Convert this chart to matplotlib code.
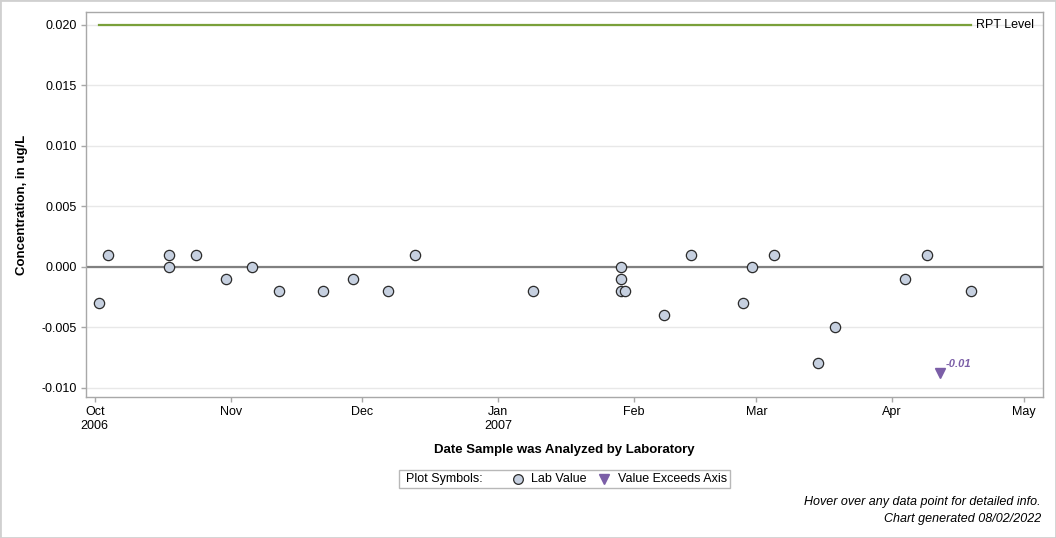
#!/usr/bin/env python3
"""Lab concentration time series with RPT level, SAS-style."""

import matplotlib
matplotlib.use("Agg")
import matplotlib.pyplot as plt
from matplotlib.lines import Line2D
from matplotlib.patches import Rectangle
import pandas as pd

plt.rcParams["font.family"] = ["Liberation Sans", "DejaVu Sans"]

# --- Data ------------------------------------------------------------------
lab_dates = [
    "2006-10-02", "2006-10-04", "2006-10-18", "2006-10-18", "2006-10-24",
    "2006-10-31", "2006-11-06", "2006-11-12", "2006-11-22", "2006-11-29",
    "2006-12-07", "2006-12-13", "2007-01-09", "2007-01-29", "2007-01-29",
    "2007-01-29", "2007-01-30", "2007-02-08", "2007-02-14", "2007-02-26",
    "2007-02-28", "2007-03-05", "2007-03-15", "2007-03-19", "2007-04-04",
    "2007-04-09", "2007-04-19",
]
lab_values = [
    -0.003, 0.001, 0.001, 0.000, 0.001,
    -0.001, 0.000, -0.002, -0.002, -0.001,
    -0.002, 0.001, -0.002, 0.000, -0.001,
    -0.002, -0.002, -0.004, 0.001, -0.003,
    0.000, 0.001, -0.008, -0.005, -0.001,
    0.001, -0.002,
]
exceed_dates = ["2007-04-12"]
exceed_labels = ["-0.01"]
exceed_plot_y = -0.0088   # where SAS parks the off-axis marker

rpt_level = 0.020
y_ticks = [-0.010, -0.005, 0.000, 0.005, 0.010, 0.015, 0.020]
month_ticks = ["2006-10-01", "2006-11-01", "2006-12-01", "2007-01-01",
               "2007-02-01", "2007-03-01", "2007-04-01", "2007-05-01"]
month_labels = ["Oct\n2006", "Nov", "Dec", "Jan\n2007", "Feb", "Mar", "Apr", "May"]

lab_dt = pd.to_datetime(lab_dates)
exc_dt = pd.to_datetime(exceed_dates)

# --- Styles ----------------------------------------------------------------
C_FILL = "#c6d0e0"
C_EDGE = "#2b2b2b"
C_PURPLE = "#7b5ea7"
C_GREEN = "#7aa03a"
C_SPINE = "#a8a8a8"
C_GRID = "#e8e8e8"

fig = plt.figure(figsize=(10.56, 5.38), dpi=100)
ax = fig.add_axes([0.08144, 0.26264, 0.90653, 0.7145])

for y in y_ticks:
    ax.axhline(y, color=C_GRID, lw=1.0, zorder=0)
ax.axhline(0, color="#808080", lw=1.6, zorder=1)

ax.plot([lab_dt.min(), lab_dt.max()], [rpt_level, rpt_level],
        color=C_GREEN, lw=1.6, zorder=2)
ax.annotate("RPT Level", xy=(lab_dt.max(), rpt_level), xytext=(3.5, 0),
            textcoords="offset points", va="center", ha="left", fontsize=9)

ax.plot(lab_dt, lab_values, ls="none", marker="o", ms=7.4,
        mfc=C_FILL, mec=C_EDGE, mew=0.9, zorder=3)
ax.plot(exc_dt, [exceed_plot_y] * len(exc_dt), ls="none", marker="v", ms=7,
        mfc=C_PURPLE, mec=C_PURPLE, zorder=3)
for d, lab in zip(exc_dt, exceed_labels):
    ax.annotate(lab, xy=(d, exceed_plot_y), xytext=(4, 3),
                textcoords="offset points", ha="left", va="bottom",
                fontsize=8, fontweight="bold", fontstyle="italic",
                color=C_PURPLE)

ax.set_xlim(pd.Timestamp("2006-09-29"), pd.Timestamp("2007-05-05 12:00"))
ax.set_ylim(-0.010744, 0.021025)
ax.set_yticks(y_ticks)
ax.yaxis.set_major_formatter(matplotlib.ticker.FormatStrFormatter("%.3f"))
ax.set_xticks(pd.to_datetime(month_ticks))
ax.set_xticklabels(month_labels, fontsize=9)
ax.tick_params(axis="y", labelsize=9)
ax.tick_params(axis="both", color=C_SPINE, length=3.6, width=1,
               direction="out", pad=3)
for s in ax.spines.values():
    s.set_color(C_SPINE)
    s.set_linewidth(1)

ax.set_xlabel("Date Sample was Analyzed by Laboratory", fontsize=9.5,
              fontweight="bold", labelpad=9)
ax.set_ylabel("Concentration, in ug/L", fontsize=9.5, fontweight="bold",
              labelpad=10)

# --- Legend box (manual, SAS style) ---------------------------------------
W, H = 1056, 538
def fx(px): return px / W
def fy(py): return 1 - py / H

fig.patches.append(Rectangle((fx(399), fy(488)), fx(730) - fx(399),
                             fy(470) - fy(488), transform=fig.transFigure,
                             fill=False, ec="#b8b8b8", lw=1))
fig.text(fx(406), fy(479), "Plot Symbols:", fontsize=9, va="center")
fig.lines.append(Line2D([fx(518)], [fy(479)], transform=fig.transFigure,
                        ls="none", marker="o", ms=7, mfc=C_FILL, mec=C_EDGE,
                        mew=0.9))
fig.text(fx(531), fy(479), "Lab Value", fontsize=9, va="center")
fig.lines.append(Line2D([fx(604)], [fy(479)], transform=fig.transFigure,
                        ls="none", marker="v", ms=7, mfc=C_PURPLE,
                        mec=C_PURPLE))
fig.text(fx(618), fy(479), "Value Exceeds Axis", fontsize=9, va="center")

fig.text(fx(1041), fy(502), "Hover over any data point for detailed info.",
         fontsize=9, fontstyle="italic", ha="right", va="center")
fig.text(fx(1041), fy(519), "Chart generated 08/02/2022",
         fontsize=9, fontstyle="italic", ha="right", va="center")

fig.patches.append(Rectangle((0, 0), 1, 1, transform=fig.transFigure,
                             fill=False, ec="#d0d0d0", lw=2))

fig.savefig("out.png", dpi=100)
